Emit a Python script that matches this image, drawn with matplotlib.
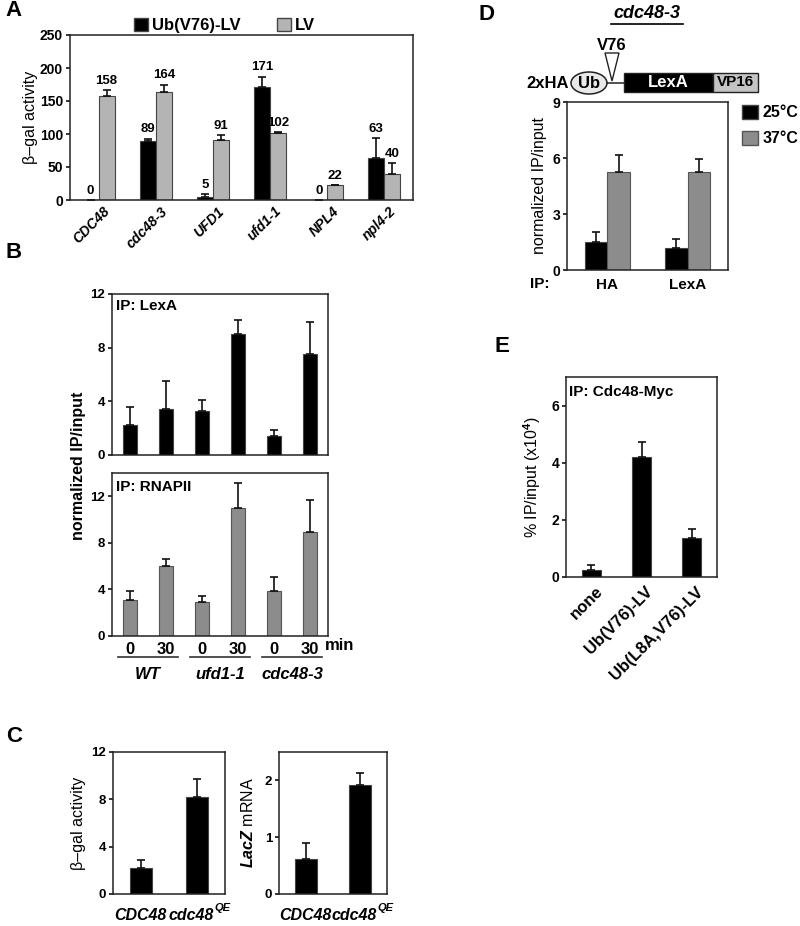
import numpy as np
import matplotlib
matplotlib.use('Agg')
import matplotlib.pyplot as plt
from matplotlib.patches import Ellipse, Rectangle, Polygon, Patch

plt.rcParams['font.family'] = ['Liberation Sans', 'DejaVu Sans']
plt.rcParams['font.weight'] = 'bold'
plt.rcParams['mathtext.fontset'] = 'custom'
plt.rcParams['mathtext.rm'] = 'Liberation Sans:bold'
plt.rcParams['mathtext.it'] = 'Liberation Sans:italic:bold'
plt.rcParams['mathtext.bf'] = 'Liberation Sans:bold'
plt.rcParams['axes.linewidth'] = 1.1
plt.rcParams['axes.edgecolor'] = '#222222'

# %% data
# A: beta-gal activity
strains_a = ['CDC48', 'cdc48-3', 'UFD1', 'ufd1-1', 'NPL4', 'npl4-2']
ublv = [0, 89, 5, 171, 0, 63]
ublv_err = [0, 4, 4, 16, 0, 31]
lv = [158, 164, 91, 102, 22, 40]
lv_err = [8, 11, 7, 1, 1, 16]

# B: ChIP, LexA / RNAPII
times_b = ['0', '30', '0', '30', '0', '30']
groups_b = ['WT', 'ufd1-1', 'cdc48-3']
lexa_b = [2.2, 3.4, 3.25, 9.05, 1.45, 7.5]
lexa_b_err = [1.35, 2.1, 0.85, 1.0, 0.4, 2.4]
rnap_b = [3.1, 6.0, 2.95, 11.0, 3.9, 8.9]
rnap_b_err = [0.8, 0.65, 0.5, 2.1, 1.15, 2.8]

# C
strains_c = ['CDC48', 'cdc48']
strains_c_sup = ['', 'QE']
bgal_c = [2.2, 8.2]
bgal_c_err = [0.7, 1.5]
lacz_c = [0.61, 1.92]
lacz_c_err = [0.28, 0.21]

# D
ips_d = ['HA', 'LexA']
temps_d = ['25°C', '37°C']
d_25 = [1.52, 1.2]
d_25_err = [0.5, 0.44]
d_37 = [5.27, 5.23]
d_37_err = [0.9, 0.72]

# E
constructs_e = ['none', 'Ub(V76)-LV', 'Ub(L8A,V76)-LV']
cdc48_e = [0.26, 4.19, 1.35]
cdc48_e_err = [0.15, 0.55, 0.32]

W, H = 800, 926
GRAY_LIGHT = '#b4b4b4'
GRAY = '#8c8c8c'


def box(x0, y0, x1, y1):
    # pixel box (top-left origin) -> figure fraction rect
    return [x0 / W, 1 - y1 / H, (x1 - x0) / W, (y1 - y0) / H]


def style(ax, size=9.5):
    ax.tick_params(axis='y', direction='out', length=3, width=1.1, labelsize=size, pad=2)
    ax.tick_params(axis='x', length=0, labelsize=size)
    for lab in ax.get_yticklabels():
        lab.set_fontweight('bold')


def ebar(ax, x, y, err, color, width, edge='#444444'):
    ax.bar(x, y, width, color=color, edgecolor=edge, linewidth=0.8,
           yerr=[np.zeros(len(err)), err], capsize=3,
           error_kw=dict(elinewidth=1.2, capthick=1.2, ecolor='#111111'))


def strain_labels(ax, y=-0.148):
    # italic strain names under the bars, with superscript where needed
    ax.set_xticks([])
    tr = ax.get_xaxis_transform()
    shifts = [-0.02, -0.1]
    for i, (name, sup) in enumerate(zip(strains_c, strains_c_sup)):
        t = ax.text(i + shifts[i], y, name, transform=tr, ha='center', va='center',
                    fontsize=11.5, fontstyle='italic', clip_on=False)
        if sup:
            ax.annotate(sup, xy=(1.0, 0.95), xycoords=t, ha='left', va='center',
                        fontsize=8, fontstyle='italic', annotation_clip=False)


fig = plt.figure(figsize=(W / 100, H / 100), dpi=100)

# overlay in pixel coordinates for labels & diagram
ov = fig.add_axes([0, 0, 1, 1])
ov.set_xlim(0, W)
ov.set_ylim(H, 0)
ov.axis('off')

# %% A
ax_a = fig.add_axes(box(70, 35, 413, 200))
xa = np.arange(len(strains_a))
ebar(ax_a, xa - 0.14, ublv, ublv_err, 'black', 0.28)
ebar(ax_a, xa + 0.14, lv, lv_err, GRAY_LIGHT, 0.28)
for xi, v, e in zip(xa - 0.14, ublv, ublv_err):
    ax_a.text(xi, v + e + 14, str(v), ha='center', va='center', fontsize=9.5)
for xi, v, e in zip(xa + 0.14, lv, lv_err):
    ax_a.text(xi, v + e + 14, str(v), ha='center', va='center', fontsize=9.5)
ax_a.set_xlim(-0.5, 5.5)
ax_a.set_ylim(0, 250)
ax_a.set_yticks(range(0, 251, 50))
ax_a.set_xticks(xa + 0.08)
ax_a.set_xticklabels(strains_a, rotation=45, ha='right', rotation_mode='anchor',
                     fontstyle='italic', fontweight='bold', fontsize=11)
style(ax_a, 10)
ax_a.tick_params(axis='x', pad=3)
ax_a.set_ylabel('β–gal activity', fontweight='normal', fontsize=11.5, labelpad=1)
handles = [Patch(facecolor='black', edgecolor='#444444', label='Ub(V76)-LV'),
           Patch(facecolor=GRAY_LIGHT, edgecolor='#444444', label='LV')]
ax_a.legend(handles=handles, ncol=2, frameon=False, loc='lower center',
            bbox_to_anchor=(0.45, 0.99), fontsize=12, handlelength=0.85,
            handleheight=0.85, handletextpad=0.2, columnspacing=2.2,
            borderaxespad=0, borderpad=0.2)

# %% B
xb = np.arange(len(times_b))
ax_b1 = fig.add_axes(box(112, 294, 328, 455))
ebar(ax_b1, xb, lexa_b, lexa_b_err, 'black', 0.4)
ax_b1.set_xlim(-0.5, 5.5)
ax_b1.set_ylim(0, 12)
ax_b1.set_yticks([0, 4, 8, 12])
ax_b1.set_xticks([])
style(ax_b1)
ax_b1.text(0.02, 0.97, 'IP: LexA', transform=ax_b1.transAxes, ha='left', va='top', fontsize=11)

ax_b2 = fig.add_axes(box(112, 473, 328, 636))
ebar(ax_b2, xb, rnap_b, rnap_b_err, GRAY, 0.4, edge='#555555')
ax_b2.set_xlim(-0.5, 5.5)
ax_b2.set_ylim(0, 14)
ax_b2.set_yticks([0, 4, 8, 12])
ax_b2.set_xticks(xb)
ax_b2.set_xticklabels(times_b, fontsize=12, fontweight='bold')
style(ax_b2)
ax_b2.tick_params(axis='x', labelsize=12, pad=4)
ax_b2.text(0.02, 0.955, 'IP: RNAPII', transform=ax_b2.transAxes, ha='left', va='top', fontsize=11)
trans = ax_b2.get_xaxis_transform()
for g, name in enumerate(groups_b):
    ax_b2.plot([2 * g - 0.32, 2 * g + 1.32], [-0.13, -0.13], color='#333333', lw=1.2,
               transform=trans, clip_on=False)
    ax_b2.text(2 * g + 0.5, -0.235, name, transform=trans, ha='center', va='center',
               fontsize=12, fontstyle='italic')
ov.text(340, 646, 'min', ha='center', va='center', fontsize=12)
ov.text(79, 466, 'normalized IP/input', rotation=90, ha='center', va='center', fontsize=11.5)

# %% C
xc = np.arange(len(strains_c))
ax_c1 = fig.add_axes(box(113, 752, 225, 894))
ebar(ax_c1, xc, bgal_c, bgal_c_err, 'black', 0.4)
ax_c1.set_xlim(-0.5, 1.5)
ax_c1.set_ylim(0, 12)
ax_c1.set_yticks([0, 4, 8, 12])
style(ax_c1)
strain_labels(ax_c1)
ax_c1.set_ylabel('β–gal activity', fontweight='normal', fontsize=11.5, labelpad=4)

ax_c2 = fig.add_axes(box(279, 752, 387, 894))
ebar(ax_c2, xc, lacz_c, lacz_c_err, 'black', 0.4)
ax_c2.set_xlim(-0.5, 1.5)
ax_c2.set_ylim(0, 2.5)
ax_c2.set_yticks([0, 1, 2])
style(ax_c2)
strain_labels(ax_c2)
ax_c2.set_ylabel(r'$\mathit{LacZ}$ mRNA', fontsize=11.5, labelpad=6)

# %% D
xd = np.arange(len(ips_d))
ax_d = fig.add_axes(box(567, 102, 728, 270))
ebar(ax_d, xd - 0.14, d_25, d_25_err, 'black', 0.28)
ebar(ax_d, xd + 0.14, d_37, d_37_err, GRAY, 0.28, edge='#555555')
ax_d.set_xlim(-0.5, 1.5)
ax_d.set_ylim(0, 9)
ax_d.set_yticks([0, 3, 6, 9])
ax_d.set_xticks(xd)
ax_d.set_xticklabels(ips_d, fontsize=11)
style(ax_d, 10)
ax_d.tick_params(axis='x', labelsize=11, pad=6)
ax_d.set_ylabel('normalized IP/input', fontsize=11.5, labelpad=4)
handles = [Patch(facecolor='black', edgecolor='#444444', label=temps_d[0]),
           Patch(facecolor=GRAY, edgecolor='#555555', label=temps_d[1])]
ax_d.legend(handles=handles, frameon=False, loc='upper left', bbox_to_anchor=(1.09, 0.985),
            fontsize=11.5, handlelength=1.0, handleheight=1.0, handletextpad=0.25,
            labelspacing=0.65, borderaxespad=0, borderpad=0)
ov.text(540, 284, 'IP:', ha='center', va='center', fontsize=11)

# construct diagram
ov.text(647, 14, 'cdc48-3', ha='center', va='center', fontsize=13, fontstyle='italic')
ov.plot([611, 683], [24, 24], color='black', lw=1.2)
ov.text(548, 83, '2xHA', ha='center', va='center', fontsize=12)
ov.add_patch(Ellipse((589, 83), 36, 22, facecolor='#e8e8e8', edgecolor='#222222', lw=1.1))
ov.text(589, 83, 'Ub', ha='center', va='center', fontsize=12)
ov.plot([607, 624], [83, 83], color='#222222', lw=1.1)
ov.add_patch(Polygon([(605, 53), (619, 53), (612, 81)], closed=True,
                     facecolor='white', edgecolor='#222222', lw=1.0))
ov.text(612, 45, 'V76', ha='center', va='center', fontsize=12)
ov.add_patch(Rectangle((624, 73), 89, 19, facecolor='black', edgecolor='#222222', lw=1.0))
ov.text(668, 82.5, 'LexA', ha='center', va='center', fontsize=12, color='white')
ov.add_patch(Rectangle((713, 73), 45, 19, facecolor='#c4c4c4', edgecolor='#222222', lw=1.0))
ov.text(735.5, 82.5, 'VP16', ha='center', va='center', fontsize=11)

# %% E
xe = np.arange(len(constructs_e))
ax_e = fig.add_axes(box(566, 377, 717, 577))
ebar(ax_e, xe, cdc48_e, cdc48_e_err, 'black', 0.38)
ax_e.set_xlim(-0.5, 2.5)
ax_e.set_ylim(0, 7)
ax_e.set_yticks([0, 2, 4, 6])
ax_e.set_xticks(xe + 0.08)
ax_e.set_xticklabels(constructs_e, rotation=45, ha='right', rotation_mode='anchor', fontsize=12)
style(ax_e, 10)
ax_e.tick_params(axis='x', labelsize=12, pad=5)
ax_e.set_ylabel(r'% IP/input (x10$^4$)', fontsize=11.5, labelpad=6)
ax_e.text(0.02, 0.96, 'IP: Cdc48-Myc', transform=ax_e.transAxes, ha='left', va='top', fontsize=11)

# panel letters
for letter, (x, y) in {'A': (13, 10), 'B': (14, 252), 'C': (14, 736),
                       'D': (487, 15), 'E': (502, 347)}.items():
    ov.text(x, y, letter, ha='center', va='center', fontsize=16)

fig.savefig('out.png', dpi=100)
